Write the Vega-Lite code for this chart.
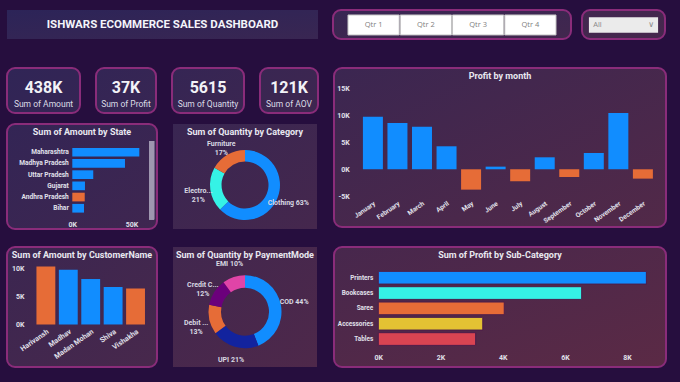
{
  "background": "#260e3e",
  "padding": {"left": 6, "top": 9, "right": 13, "bottom": 14},
  "config": {
    "view": {"stroke": "#8a2c7a", "strokeWidth": 2, "cornerRadius": 8},
    "font": "Roboto",
    "axis": {"domain": false, "ticks": false, "tickSize": 0, "grid": false, "labelColor": "#e0e0ea", "labelFont": "Roboto", "labelFontWeight": "bold", "labelFontSize": 7, "labelFlush": false},
    "title": {"font": "Roboto", "fontSize": 9, "fontWeight": "bold", "color": "#e8e8f0", "anchor": "middle", "baseline": "middle"}
  },
  "resolve": {"scale": {"color": "independent"}},
  "spacing": 27,
  "vconcat": [
    {
      "spacing": 14,
      "resolve": {"scale": {"color": "independent"}},
      "hconcat": [
        {
          "width": 311, "height": 29,
          "view": {"fill": {"gradient": "linear", "x1": 0, "y1": 0, "x2": 1, "y2": 1, "stops": [{"offset": 0, "color": "#2c2458"}, {"offset": 1, "color": "#392652"}]}},
          "data": {"values": [{"t": "ISHWARS ECOMMERCE SALES DASHBOARD"}]},
          "mark": {"type": "text", "fontSize": 11.5, "fontWeight": "bold", "color": "#f4f4fa"},
          "encoding": {"text": {"field": "t", "type": "nominal"}}
        },
        {
          "spacing": 9,
          "resolve": {"scale": {"color": "independent"}},
          "hconcat": [
            {
              "width": 238, "height": 29,
              "view": {"fill": {"gradient": "linear", "x1": 0, "y1": 0, "x2": 1, "y2": 1, "stops": [{"offset": 0, "color": "#382653"}, {"offset": 1, "color": "#42274e"}]}},
              "data": {"values": [{"q": "Qtr 1", "row": "s"}, {"q": "Qtr 2", "row": "s"}, {"q": "Qtr 3", "row": "s"}, {"q": "Qtr 4", "row": "s"}]},
              "encoding": {
                "x": {"field": "q", "type": "nominal", "scale": {"domain": ["Qtr 1", "Qtr 2", "Qtr 3", "Qtr 4"], "paddingInner": 0.02, "paddingOuter": 0.287, "align": 0.5}, "axis": null},
                "y": {"field": "row", "type": "nominal", "scale": {"domain": ["s"], "paddingInner": 0, "paddingOuter": 0.225, "align": 0.553}, "axis": null}
              },
              "layer": [
                {"mark": {"type": "rect", "fill": "#ffffff", "stroke": "#c4c4c4", "strokeWidth": 1}},
                {"mark": {"type": "text", "fontSize": 7.5, "color": "#808080", "font": "Open Sans"}, "encoding": {"text": {"field": "q", "type": "nominal"}}}
              ]
            },
            {
              "width": 83, "height": 29,
              "view": {"fill": {"gradient": "linear", "x1": 0, "y1": 0, "x2": 1, "y2": 1, "stops": [{"offset": 0, "color": "#41274f"}, {"offset": 1, "color": "#46274d"}]}},
              "data": {"values": [{"t": "All", "col": "c", "row": "s"}]},
              "encoding": {
                "x": {"field": "col", "type": "nominal", "scale": {"domain": ["c"], "paddingInner": 0, "paddingOuter": 0.1, "align": 0.5}, "axis": null},
                "y": {"field": "row", "type": "nominal", "scale": {"domain": ["s"], "paddingInner": 0, "paddingOuter": 0.44, "align": 0.535}, "axis": null}
              },
              "layer": [
                {"mark": {"type": "rect", "fill": "#ebebeb"}},
                {"mark": {"type": "text", "align": "left", "fontSize": 7.5, "color": "#8a8a8a", "font": "Open Sans"}, "encoding": {"text": {"field": "t", "type": "nominal"}, "x": {"field": "col", "type": "nominal", "bandPosition": 0.062, "axis": null}}},
                {"mark": {"type": "text", "fontSize": 8, "color": "#8a8a8a", "font": "DejaVu Sans"}, "encoding": {"text": {"value": "∨"}, "x": {"field": "col", "type": "nominal", "bandPosition": 0.9, "axis": null}}}
              ]
            }
          ]
        }
      ]
    },
    {
      "spacing": 14,
      "resolve": {"scale": {"color": "independent"}},
      "hconcat": [
        {
          "spacing": 16,
          "resolve": {"scale": {"color": "independent"}},
          "vconcat": [
            {
              "spacing": 9,
              "resolve": {"scale": {"color": "independent"}},
              "vconcat": [
                {
                  "spacing": 14,
                  "resolve": {"scale": {"color": "independent"}},
                  "hconcat": [
                    {
                      "width": 73, "height": 45,
                      "view": {"fill": {"gradient": "linear", "x1": 0, "y1": 0, "x2": 1, "y2": 1, "stops": [{"offset": 0, "color": "#302556"}, {"offset": 1, "color": "#352554"}]}},
                      "data": {"values": [{"part": "v", "t": "438K"}, {"part": "l", "t": "Sum of Amount"}]},
                      "encoding": {"y": {"field": "part", "type": "nominal", "scale": {"type": "point", "domain": ["v", "l"], "padding": 0.906, "align": 0.7}, "axis": null}, "text": {"field": "t", "type": "nominal"}},
                      "layer": [
                        {"transform": [{"filter": "datum.part == 'v'"}], "mark": {"type": "text", "fontSize": 16, "fontWeight": "bold", "color": "#f2f2f7"}},
                        {"transform": [{"filter": "datum.part == 'l'"}], "mark": {"type": "text", "fontSize": 8.5, "color": "#dcdce6"}}
                      ]
                    },
                    {
                      "width": 60, "height": 45,
                      "view": {"fill": {"gradient": "linear", "x1": 0, "y1": 0, "x2": 1, "y2": 1, "stops": [{"offset": 0, "color": "#332555"}, {"offset": 1, "color": "#382653"}]}},
                      "data": {"values": [{"part": "v", "t": "37K"}, {"part": "l", "t": "Sum of Profit"}]},
                      "encoding": {"y": {"field": "part", "type": "nominal", "scale": {"type": "point", "domain": ["v", "l"], "padding": 0.906, "align": 0.7}, "axis": null}, "text": {"field": "t", "type": "nominal"}},
                      "layer": [
                        {"transform": [{"filter": "datum.part == 'v'"}], "mark": {"type": "text", "fontSize": 16, "fontWeight": "bold", "color": "#f2f2f7"}},
                        {"transform": [{"filter": "datum.part == 'l'"}], "mark": {"type": "text", "fontSize": 8.5, "color": "#dcdce6"}}
                      ]
                    },
                    {
                      "width": 72, "height": 45,
                      "view": {"fill": {"gradient": "linear", "x1": 0, "y1": 0, "x2": 1, "y2": 1, "stops": [{"offset": 0, "color": "#352554"}, {"offset": 1, "color": "#3b2651"}]}},
                      "data": {"values": [{"part": "v", "t": "5615"}, {"part": "l", "t": "Sum of Quantity"}]},
                      "encoding": {"y": {"field": "part", "type": "nominal", "scale": {"type": "point", "domain": ["v", "l"], "padding": 0.906, "align": 0.7}, "axis": null}, "text": {"field": "t", "type": "nominal"}},
                      "layer": [
                        {"transform": [{"filter": "datum.part == 'v'"}], "mark": {"type": "text", "fontSize": 16, "fontWeight": "bold", "color": "#f2f2f7"}},
                        {"transform": [{"filter": "datum.part == 'l'"}], "mark": {"type": "text", "fontSize": 8.5, "color": "#dcdce6"}}
                      ]
                    },
                    {
                      "width": 58, "height": 45,
                      "view": {"fill": {"gradient": "linear", "x1": 0, "y1": 0, "x2": 1, "y2": 1, "stops": [{"offset": 0, "color": "#392652"}, {"offset": 1, "color": "#3e2650"}]}},
                      "data": {"values": [{"part": "v", "t": "121K"}, {"part": "l", "t": "Sum of AOV"}]},
                      "encoding": {"y": {"field": "part", "type": "nominal", "scale": {"type": "point", "domain": ["v", "l"], "padding": 0.906, "align": 0.7}, "axis": null}, "text": {"field": "t", "type": "nominal"}},
                      "layer": [
                        {"transform": [{"filter": "datum.part == 'v'"}], "mark": {"type": "text", "fontSize": 16, "fontWeight": "bold", "color": "#f2f2f7"}},
                        {"transform": [{"filter": "datum.part == 'l'"}], "mark": {"type": "text", "fontSize": 8.5, "color": "#dcdce6"}}
                      ]
                    }
                  ]
                },
                {
                  "spacing": 15,
                  "resolve": {"scale": {"color": "independent"}},
                  "hconcat": [
                    {
                      "width": 150, "height": 105,
                      "view": {"fill": {"gradient": "linear", "x1": 0, "y1": 0, "x2": 1, "y2": 1, "stops": [{"offset": 0, "color": "#332555"}, {"offset": 1, "color": "#3f2650"}]}},
                      "title": {"text": "Sum of Amount by State", "offset": -12.5},
                      "data": {"values": [
                        {"state": "Maharashtra", "amount": 56600},
                        {"state": "Madhya Pradesh", "amount": 44500},
                        {"state": "Uttar Pradesh", "amount": 17700},
                        {"state": "Gujarat", "amount": 10700},
                        {"state": "Andhra Pradesh", "amount": 10500},
                        {"state": "Bihar", "amount": 9900}
                      ]},
                      "layer": [
                        {
                          "mark": {"type": "bar"},
                          "encoding": {
                            "y": {"field": "state", "type": "nominal", "scale": {"domain": ["_t", "Maharashtra", "Madhya Pradesh", "Uttar Pradesh", "Gujarat", "Andhra Pradesh", "Bihar", "_b"], "paddingInner": 0.2232, "paddingOuter": 0.8, "align": 0.71}, "axis": {"orient": "left", "values": ["Maharashtra", "Madhya Pradesh", "Uttar Pradesh", "Gujarat", "Andhra Pradesh", "Bihar"], "offset": -65.3, "labelPadding": 4, "labelFontSize": 6.6, "title": null}},
                            "x": {"field": "amount", "type": "quantitative", "scale": {"domain": [-55150, 71540], "nice": false, "zero": false}, "axis": {"values": [0, 50000], "labelExpr": "datum.value / 1000 + 'K'", "offset": -11, "labelPadding": 2, "title": null}},
                            "color": {"condition": {"test": "datum.state == 'Andhra Pradesh'", "value": "#E66C37"}, "value": "#118DFF"}
                          }
                        },
                        {
                          "mark": {"type": "rule", "strokeWidth": 5, "color": "#9f97b0"},
                          "encoding": {"x": {"datum": 67000, "type": "quantitative"}, "y": {"datum": "_t", "type": "nominal"}, "y2": {"datum": "_b"}}
                        }
                      ]
                    },
                    {
                      "width": 144, "height": 105,
                      "view": {"fill": {"gradient": "linear", "x1": 0, "y1": 0, "x2": 1, "y2": 1, "stops": [{"offset": 0, "color": "#392652"}, {"offset": 1, "color": "#45274d"}]}},
                      "title": {"text": "Sum of Quantity by Category", "offset": -12.5},
                      "data": {"values": [
                        {"cat": "Clothing", "qty": 3516, "label": "Clothing 63%"},
                        {"cat": "Electronics", "qty": 1154, "label": "Electro...\n21%"},
                        {"cat": "Furniture", "qty": 945, "label": "Furniture\n17%"}
                      ]},
                      "encoding": {
                        "theta": {"field": "qty", "type": "quantitative", "stack": true},
                        "order": {"field": "qty", "type": "quantitative", "sort": "descending"}
                      },
                      "layer": [
                        {"mark": {"type": "arc", "outerRadius": 35, "innerRadius": 23.5, "yOffset": 8.5}, "encoding": {"color": {"field": "cat", "type": "nominal", "scale": {"domain": ["Clothing", "Electronics", "Furniture"], "range": ["#118DFF", "#35F2E6", "#E66C37"]}, "legend": null}}},
                        {"mark": {"type": "text", "radius": 47, "yOffset": 8.5, "fontSize": 7, "fontWeight": "bold", "color": "#d8d8e2", "lineBreak": "\n"}, "encoding": {"text": {"field": "label", "type": "nominal"}, "detail": {"field": "cat", "type": "nominal"}}}
                      ]
                    }
                  ]
                }
              ]
            },
            {
              "spacing": 15,
              "resolve": {"scale": {"color": "independent"}},
              "hconcat": [
                {
                  "width": 150, "height": 120,
                  "view": {"fill": {"gradient": "linear", "x1": 0, "y1": 0, "x2": 1, "y2": 1, "stops": [{"offset": 0, "color": "#3b2651"}, {"offset": 1, "color": "#48284c"}]}},
                  "title": {"text": "Sum of Amount by CustomerName", "offset": -12.5},
                  "data": {"values": [
                    {"name": "Harivansh", "amount": 10300},
                    {"name": "Madhav", "amount": 9700},
                    {"name": "Madan Mohan", "amount": 8060},
                    {"name": "Shiva", "amount": 6650},
                    {"name": "Vishakha", "amount": 6400}
                  ]},
                  "mark": {"type": "bar"},
                  "encoding": {
                    "x": {"field": "name", "type": "nominal", "scale": {"domain": ["Harivansh", "Madhav", "Madan Mohan", "Shiva", "Vishakha"], "paddingInner": 0.158, "paddingOuter": 0.925, "align": 0.71}, "axis": {"labelAngle": -35, "offset": -41.7, "labelPadding": 2, "title": null, "labelOverlap": false, "labelFontSize": 7.2}},
                    "y": {"field": "amount", "type": "quantitative", "scale": {"domain": [-7540, 13740], "nice": false, "zero": false}, "axis": {"values": [0, 5000, 10000], "labelExpr": "datum.value / 1000 + 'K'", "offset": -19, "labelPadding": 2, "title": null}},
                    "color": {"condition": {"test": "datum.name == 'Harivansh' || datum.name == 'Vishakha'", "value": "#E66C37"}, "value": "#118DFF"}
                  }
                },
                {
                  "width": 144, "height": 120,
                  "view": {"fill": {"gradient": "linear", "x1": 0, "y1": 0, "x2": 1, "y2": 1, "stops": [{"offset": 0, "color": "#41274f"}, {"offset": 1, "color": "#4e284a"}]}},
                  "title": {"text": "Sum of Quantity by PaymentMode", "offset": -12.5},
                  "data": {"values": [
                    {"mode": "COD", "qty": 2471, "label": "COD 44%"},
                    {"mode": "UPI", "qty": 1179, "label": "UPI 21%"},
                    {"mode": "Debit Card", "qty": 730, "label": "Debit ...\n13%"},
                    {"mode": "Credit Card", "qty": 674, "label": "Credit C...\n12%"},
                    {"mode": "EMI", "qty": 561, "label": "EMI 10%"}
                  ]},
                  "encoding": {
                    "theta": {"field": "qty", "type": "quantitative", "stack": true},
                    "order": {"field": "qty", "type": "quantitative", "sort": "descending"}
                  },
                  "layer": [
                    {"mark": {"type": "arc", "outerRadius": 36.5, "innerRadius": 24, "yOffset": 4.7}, "encoding": {"color": {"field": "mode", "type": "nominal", "scale": {"domain": ["COD", "UPI", "Debit Card", "Credit Card", "EMI"], "range": ["#118DFF", "#12239E", "#E66C37", "#6B007B", "#E044A7"]}, "legend": null}}},
                    {"mark": {"type": "text", "radius": 50, "yOffset": 4.7, "fontSize": 7, "fontWeight": "bold", "color": "#d8d8e2", "lineBreak": "\n"}, "encoding": {"text": {"field": "label", "type": "nominal"}, "detail": {"field": "mode", "type": "nominal"}}}
                  ]
                }
              ]
            }
          ]
        },
        {
          "spacing": 18,
          "resolve": {"scale": {"color": "independent"}},
          "vconcat": [
            {
              "width": 332, "height": 159,
              "view": {"fill": {"gradient": "linear", "x1": 0, "y1": 0, "x2": 1, "y2": 1, "stops": [{"offset": 0, "color": "#3b2651"}, {"offset": 1, "color": "#522948"}]}},
              "title": {"text": "Profit by month", "offset": -12.5},
              "data": {"values": [
                {"month": "January", "profit": 9750},
                {"month": "February", "profit": 8580},
                {"month": "March", "profit": 7900},
                {"month": "April", "profit": 4260},
                {"month": "May", "profit": -3770},
                {"month": "June", "profit": 490},
                {"month": "July", "profit": -2220},
                {"month": "August", "profit": 2220},
                {"month": "September", "profit": -1420},
                {"month": "October", "profit": 3020},
                {"month": "November", "profit": 10430},
                {"month": "December", "profit": -1730}
              ]},
              "mark": {"type": "bar"},
              "encoding": {
                "x": {"field": "month", "type": "nominal", "scale": {"domain": ["January", "February", "March", "April", "May", "June", "July", "August", "September", "October", "November", "December"], "paddingInner": 0.1852, "paddingOuter": 0.856, "align": 0.688}, "axis": {"labelAngle": -35, "offset": -29, "labelPadding": 2, "labelFontSize": 6.6, "title": null, "labelOverlap": false}},
                "y": {"field": "profit", "type": "quantitative", "scale": {"domain": [-10690, 18760], "nice": false, "zero": false}, "axis": {"values": [-5000, 0, 5000, 10000, 15000], "labelExpr": "datum.value / 1000 + 'K'", "offset": -17.3, "labelPadding": 2, "title": null}},
                "color": {"condition": {"test": "datum.profit < 0", "value": "#E66C37"}, "value": "#118DFF"}
              }
            },
            {
              "width": 332, "height": 120,
              "view": {"fill": {"gradient": "linear", "x1": 0, "y1": 0, "x2": 1, "y2": 1, "stops": [{"offset": 0, "color": "#47274d"}, {"offset": 1, "color": "#5b2a45"}]}},
              "title": {"text": "Sum of Profit by Sub-Category", "offset": -12.5},
              "data": {"values": [
                {"sub": "Printers", "profit": 8620},
                {"sub": "Bookcases", "profit": 6540},
                {"sub": "Saree", "profit": 4050},
                {"sub": "Accessories", "profit": 3360},
                {"sub": "Tables", "profit": 3130}
              ]},
              "mark": {"type": "bar", "stroke": "#4d1d4a", "strokeWidth": 1},
              "encoding": {
                "y": {"field": "sub", "type": "nominal", "scale": {"domain": ["_t", "Printers", "Bookcases", "Saree", "Accessories", "Tables", "_b"], "paddingInner": 0.1716, "paddingOuter": 0.5, "align": 0.59}, "axis": {"orient": "left", "values": ["Printers", "Bookcases", "Saree", "Accessories", "Tables"], "offset": -44.3, "labelPadding": 5.6, "labelFontSize": 6.4, "title": null}},
                "x": {"field": "profit", "type": "quantitative", "scale": {"domain": [-1424, 9251], "nice": false, "zero": false}, "axis": {"values": [0, 2000, 4000, 6000, 8000], "labelExpr": "datum.value / 1000 + 'K'", "offset": -16, "labelPadding": 2, "title": null}},
                "color": {"field": "sub", "type": "nominal", "scale": {"domain": ["Printers", "Bookcases", "Saree", "Accessories", "Tables"], "range": ["#118DFF", "#35F2E6", "#E66C37", "#E3C233", "#D94452"]}, "legend": null}
              }
            }
          ]
        }
      ]
    }
  ]
}
